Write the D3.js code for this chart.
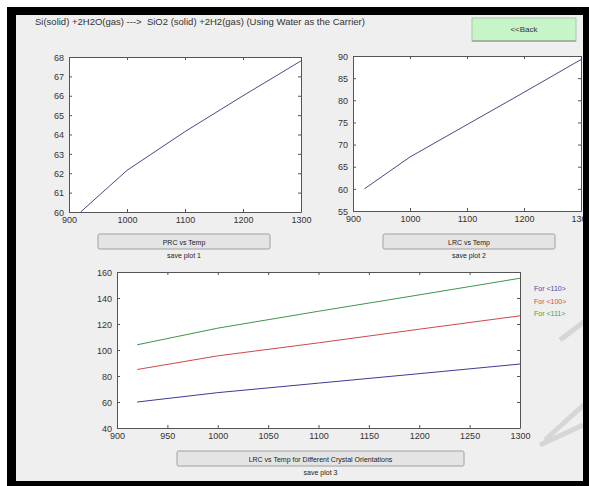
<!DOCTYPE html>
<html>
<head>
<meta charset="utf-8">
<script src="https://cdn.jsdelivr.net/npm/d3@7"></script>
<style>
  body { margin: 0; background: #fff; }
  text { font-family: "Liberation Sans", Arial, sans-serif; }
</style>
</head>
<body>
<div id="chart"></div>
<script>
// data
var temps = [920, 1000, 1100, 1200, 1300];
var prcValues = [60, 62.15, 64.15, 66.0, 67.8];
var lrc110 = [60, 67.2, 74.5, 81.8, 89.2];
var lrc100 = [85, 95.5, 105.5, 116, 126.3];
var lrc111 = [104, 116.8, 129.8, 142.4, 155.2];

var titleText = "Si(solid) +2H2O(gas) --->  SiO2 (solid) +2H2(gas) (Using Water as the Carrier)";
var legendLabels = ["For <110>", "For <100>", "For <111>"];
var seriesColors = ["#3c3c96", "#d04848", "#3c9648"];
var legendColors = ["#4848a8", "#d84848", "#48a048"];

var W = 589, H = 486;

var svg = d3.select("#chart").append("svg")
  .attr("width", W).attr("height", H);

svg.append("rect").attr("width", W).attr("height", H).attr("fill", "#fff");
svg.append("rect").attr("x", 16).attr("y", 15).attr("width", 567).attr("height", 466).attr("fill", "#efefef");

svg.append("text").attr("x", 35).attr("y", 25)
  .attr("font-size", 9.5).attr("fill", "#333")
  .style("white-space", "pre")
  .text(titleText);

// back button
svg.append("rect").attr("x", 472).attr("y", 18).attr("width", 104).attr("height", 23)
  .attr("fill", "#c8f5c8").attr("stroke", "#a8c8a8");
svg.append("line").attr("x1", 472).attr("x2", 576).attr("y1", 41).attr("y2", 41).attr("stroke", "#888");
svg.append("text").attr("x", 524).attr("y", 32).attr("text-anchor", "middle")
  .attr("font-size", 8).attr("fill", "#333").text("<<Back");

function drawPlot(box, xDom, xTicks, yDom, yTicks, series) {
  var x = d3.scaleLinear().domain(xDom).range([box.left, box.right]);
  var y = d3.scaleLinear().domain(yDom).range([box.bottom, box.top]);
  var g = svg.append("g");
  g.append("rect").attr("x", box.left).attr("y", box.top)
    .attr("width", box.right - box.left).attr("height", box.bottom - box.top)
    .attr("fill", "#fff");

  series.forEach(function(s) {
    var line = d3.line().x(function(d, i) { return x(temps[i]); }).y(function(d) { return y(d); });
    g.append("path").datum(s.values).attr("d", line)
      .attr("fill", "none").attr("stroke", s.color).attr("stroke-width", 1);
  });

  var tl = 3;
  var axB = g.append("g").attr("transform", "translate(0," + box.bottom + ")")
    .call(d3.axisBottom(x).tickValues(xTicks).tickSizeInner(-tl).tickSizeOuter(0).tickPadding(6).tickFormat(d3.format("d")));
  var axT = g.append("g").attr("transform", "translate(0," + box.top + ")")
    .call(d3.axisTop(x).tickValues(xTicks).tickSizeInner(-tl).tickSizeOuter(0).tickFormat(""));
  var axL = g.append("g").attr("transform", "translate(" + box.left + ",0)")
    .call(d3.axisLeft(y).tickValues(yTicks).tickSizeInner(-tl).tickSizeOuter(0).tickPadding(5).tickFormat(d3.format("d")));
  var axR = g.append("g").attr("transform", "translate(" + box.right + ",0)")
    .call(d3.axisRight(y).tickValues(yTicks).tickSizeInner(-tl).tickSizeOuter(0).tickFormat(""));
  [axB, axT, axL, axR].forEach(function(a) {
    a.selectAll(".domain").attr("stroke", "#555");
    a.selectAll(".tick line").attr("stroke", "#555");
    a.selectAll("text").attr("font-size", 9).attr("fill", "#333")
      .attr("font-family", "'Liberation Sans', Arial, sans-serif");
  });
  axB.selectAll("text").attr("dy", "0.55em");
  axL.selectAll("text").attr("dy", "0.35em");
  return { x: x, y: y };
}

function button(x0, x1, y0, label, caption) {
  svg.append("rect").attr("x", x0).attr("y", y0).attr("width", x1 - x0).attr("height", 15)
    .attr("rx", 1.5).attr("fill", "#e4e4e4").attr("stroke", "#a0a0a0");
  svg.append("text").attr("x", (x0 + x1) / 2).attr("y", y0 + 10.5).attr("text-anchor", "middle")
    .attr("font-size", 7).attr("fill", "#222").text(label);
  svg.append("text").attr("x", (x0 + x1) / 2).attr("y", y0 + 24).attr("text-anchor", "middle")
    .attr("font-size", 7).attr("fill", "#222").text(caption);
}

drawPlot({ left: 69, right: 301, top: 57, bottom: 212 }, [900, 1300], [900, 1000, 1100, 1200, 1300],
  [60, 68], d3.range(60, 69, 1), [{ values: prcValues, color: "#4a4a80" }]);
drawPlot({ left: 353, right: 581, top: 56, bottom: 211 }, [900, 1300], [900, 1000, 1100, 1200, 1300],
  [55, 90], d3.range(55, 91, 5), [{ values: lrc110, color: "#4a4a80" }]);
drawPlot({ left: 117, right: 520, top: 272, bottom: 428 }, [900, 1300], d3.range(900, 1301, 50),
  [40, 160], d3.range(40, 161, 20),
  [{ values: lrc110, color: seriesColors[0] }, { values: lrc100, color: seriesColors[1] }, { values: lrc111, color: seriesColors[2] }]);

legendLabels.forEach(function(t, i) {
  svg.append("text").attr("x", 534).attr("y", 291 + i * 12.5)
    .attr("font-size", 7).attr("fill", legendColors[i]).text(t);
});

button(98, 270, 234, "PRC vs Temp", "save plot 1");
button(383, 555, 234, "LRC vs Temp", "save plot 2");
button(177, 464, 451, "LRC vs Temp for Different Crystal Orientations", "save plot 3");

// faint watermark strokes
var wm = svg.append("g").attr("fill", "none").attr("stroke", "#d6d6d6").attr("stroke-width", 5);
wm.append("path").attr("d", "M545,440 L589,400");
wm.append("path").attr("d", "M560,340 L589,318");
wm.append("path").attr("d", "M540,445 L583,425");

// black frame on top
svg.append("path")
  .attr("d", "M7,7 H589 V486 H7 Z M16,15 V481 H583 V15 Z")
  .attr("fill", "#000").attr("fill-rule", "evenodd");
</script>
</body>
</html>
